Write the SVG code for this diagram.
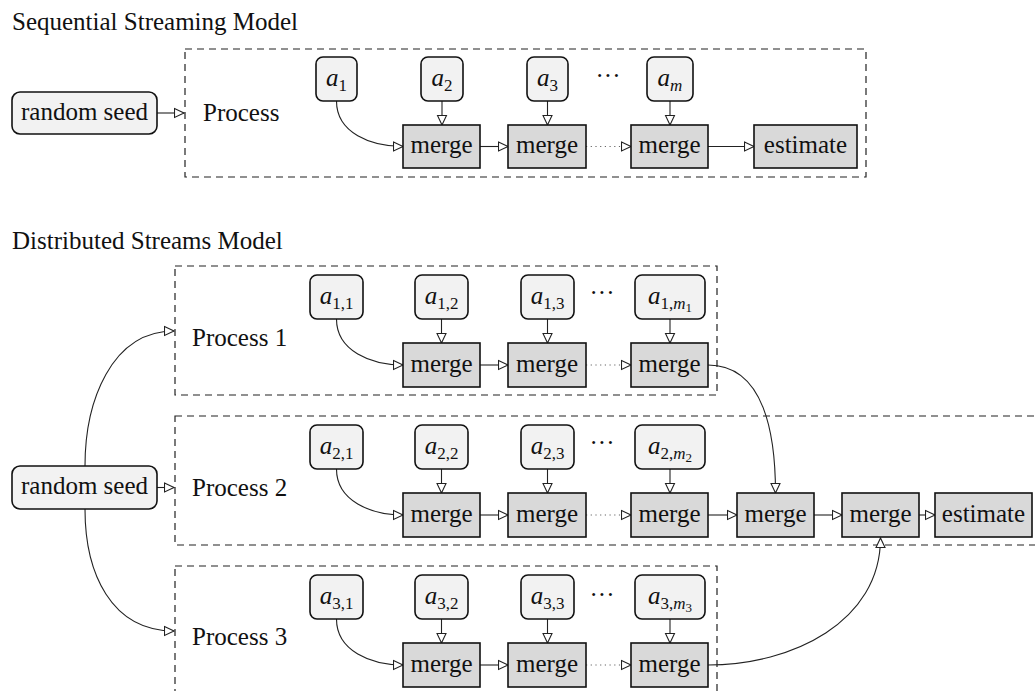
<svg xmlns="http://www.w3.org/2000/svg" width="1035" height="691" viewBox="0 0 1035 691">
<style>
text{font-family:"Liberation Serif",serif;font-size:25px;fill:#111}
.c{text-anchor:middle}
.i{font-style:italic}
.s{font-size:17px}
.ss{font-size:13px}
.a rect{fill:#f2f2f2;stroke:#111;stroke-width:1.6}
.mg rect{fill:#d9d9d9;stroke:#111;stroke-width:1.6}
.proc{fill:none;stroke:#222;stroke-width:1.2;stroke-dasharray:7 5}
.cn path,.cn line{fill:none;stroke:#222;stroke-width:1.1;marker-end:url(#ar)}
.cn .dot{stroke-dasharray:1.2 3.5;stroke:#666}
</style>
<defs>
<marker id="ar" markerUnits="userSpaceOnUse" markerWidth="12" markerHeight="12" viewBox="-1 -1 12 11" refX="9.5" refY="4.5" orient="auto">
<path d="M0,0 L9.5,4.5 L0,9 Z" fill="#fff" stroke="#222" stroke-width="1.1"/>
</marker>
</defs>

<text x="12" y="30">Sequential Streaming Model</text>
<text x="12" y="249">Distributed Streams Model</text>

<!-- process containers -->
<g id="proc-seq"><rect class="proc" x="185" y="49" width="681" height="128"/><text x="203" y="121">Process</text></g>
<g id="proc-1"><rect class="proc" x="175" y="266" width="542" height="129"/><text x="192" y="346">Process 1</text></g>
<g id="proc-2"><rect class="proc" x="175" y="416" width="870" height="129"/><text x="192" y="496">Process 2</text></g>
<g id="proc-3"><rect class="proc" x="175" y="566" width="542" height="135"/><text x="192" y="645">Process 3</text></g>

<!-- connectors -->
<g id="connectors" class="cn">
<line x1="157" y1="113" x2="184" y2="113"/>
<path d="M336.5,101 C336.5,133 371,146.5 403,146.5"/>
<line x1="442" y1="101" x2="442" y2="125"/>
<line x1="547.5" y1="101" x2="547.5" y2="125"/>
<line x1="670" y1="101" x2="670" y2="125"/>
<line x1="480" y1="146.5" x2="508" y2="146.5"/>
<line class="dot" x1="586" y1="146.5" x2="631" y2="146.5"/>
<line x1="708" y1="146.5" x2="754" y2="146.5"/>

<line x1="157" y1="487.5" x2="174" y2="487.5"/>
<path d="M85,466 C85,402 111,331 174,331"/>
<path d="M85,509 C85,573 111,631 174,631"/>

<path d="M336.5,319 C336.5,351 371,365 403,365"/>
<line x1="441.5" y1="319" x2="441.5" y2="343"/>
<line x1="547.5" y1="319" x2="547.5" y2="343"/>
<line x1="670" y1="319" x2="670" y2="343"/>
<line x1="480" y1="365" x2="508" y2="365"/>
<line class="dot" x1="586" y1="365" x2="631" y2="365"/>

<path d="M336.5,469 C336.5,501 371,515 403,515"/>
<line x1="441.5" y1="469" x2="441.5" y2="493"/>
<line x1="547.5" y1="469" x2="547.5" y2="493"/>
<line x1="670" y1="469" x2="670" y2="493"/>
<line x1="480" y1="515" x2="508" y2="515"/>
<line class="dot" x1="586" y1="515" x2="631" y2="515"/>
<line x1="708" y1="515" x2="737" y2="515"/>
<line x1="814" y1="515" x2="842" y2="515"/>
<line x1="919" y1="515" x2="935" y2="515"/>

<path d="M336.5,619 C336.5,651 371,665 403,665"/>
<line x1="441.5" y1="619" x2="441.5" y2="643"/>
<line x1="547.5" y1="619" x2="547.5" y2="643"/>
<line x1="670" y1="619" x2="670" y2="643"/>
<line x1="480" y1="665" x2="508" y2="665"/>
<line class="dot" x1="586" y1="665" x2="631" y2="665"/>

<path d="M708,365 C765,365 775.5,436 775.5,493"/>
<path d="M708,665 C792,665 880.5,622 880.5,538"/>
</g>

<!-- sequential nodes -->
<g id="seed-seq" class="a"><rect x="12" y="92" width="145" height="42" rx="8"/><text class="c" x="84.5" y="119.5">random seed</text></g>
<g id="s-a1" class="a"><rect x="316" y="57" width="41" height="44" rx="7"/><text class="c" x="336.5" y="86"><tspan class="i">a</tspan><tspan class="s" dy="5">1</tspan></text></g>
<g id="s-a2" class="a"><rect x="421" y="57" width="42" height="44" rx="7"/><text class="c" x="442" y="86"><tspan class="i">a</tspan><tspan class="s" dy="5">2</tspan></text></g>
<g id="s-a3" class="a"><rect x="527" y="57" width="41" height="44" rx="7"/><text class="c" x="547.5" y="86"><tspan class="i">a</tspan><tspan class="s" dy="5">3</tspan></text></g>
<text id="s-dots" class="c" x="608" y="84">···</text>
<g id="s-am" class="a"><rect x="647" y="57" width="46" height="44" rx="7"/><text class="c" x="670" y="86"><tspan class="i">a</tspan><tspan class="s i" dy="5">m</tspan></text></g>
<g id="s-m1" class="mg"><rect x="403" y="125" width="77" height="43"/><text class="c" x="441.5" y="153">merge</text></g>
<g id="s-m2" class="mg"><rect x="508" y="125" width="78" height="43"/><text class="c" x="547" y="153">merge</text></g>
<g id="s-m3" class="mg"><rect x="631" y="125" width="77" height="43"/><text class="c" x="669.5" y="153">merge</text></g>
<g id="s-est" class="mg"><rect x="754" y="125" width="103" height="43"/><text class="c" x="805.5" y="153">estimate</text></g>

<!-- distributed nodes -->
<g id="seed-dist" class="a"><rect x="12" y="466" width="145" height="43" rx="8"/><text class="c" x="84.5" y="494">random seed</text></g>

<g id="r1-a1" class="a"><rect x="310" y="275" width="53" height="44" rx="7"/><text class="c" x="336.5" y="304"><tspan class="i">a</tspan><tspan class="s" dy="5">1,1</tspan></text></g>
<g id="r1-a2" class="a"><rect x="415" y="275" width="53" height="44" rx="7"/><text class="c" x="441.5" y="304"><tspan class="i">a</tspan><tspan class="s" dy="5">1,2</tspan></text></g>
<g id="r1-a3" class="a"><rect x="521" y="275" width="53" height="44" rx="7"/><text class="c" x="547.5" y="304"><tspan class="i">a</tspan><tspan class="s" dy="5">1,3</tspan></text></g>
<text id="r1-dots" class="c" x="602" y="301">···</text>
<g id="r1-am" class="a"><rect x="635" y="275" width="70" height="44" rx="7"/><text class="c" x="670" y="304"><tspan class="i">a</tspan><tspan class="s" dy="5">1,</tspan><tspan class="s i">m</tspan><tspan class="ss" dy="3">1</tspan></text></g>
<g id="r1-m1" class="mg"><rect x="403" y="343" width="77" height="44"/><text class="c" x="441.5" y="371.5">merge</text></g>
<g id="r1-m2" class="mg"><rect x="508" y="343" width="78" height="44"/><text class="c" x="547" y="371.5">merge</text></g>
<g id="r1-m3" class="mg"><rect x="631" y="343" width="77" height="44"/><text class="c" x="669.5" y="371.5">merge</text></g>

<g id="r2-a1" class="a"><rect x="310" y="425" width="53" height="44" rx="7"/><text class="c" x="336.5" y="454"><tspan class="i">a</tspan><tspan class="s" dy="5">2,1</tspan></text></g>
<g id="r2-a2" class="a"><rect x="415" y="425" width="53" height="44" rx="7"/><text class="c" x="441.5" y="454"><tspan class="i">a</tspan><tspan class="s" dy="5">2,2</tspan></text></g>
<g id="r2-a3" class="a"><rect x="521" y="425" width="53" height="44" rx="7"/><text class="c" x="547.5" y="454"><tspan class="i">a</tspan><tspan class="s" dy="5">2,3</tspan></text></g>
<text id="r2-dots" class="c" x="602" y="451">···</text>
<g id="r2-am" class="a"><rect x="635" y="425" width="70" height="44" rx="7"/><text class="c" x="670" y="454"><tspan class="i">a</tspan><tspan class="s" dy="5">2,</tspan><tspan class="s i">m</tspan><tspan class="ss" dy="3">2</tspan></text></g>
<g id="r2-m1" class="mg"><rect x="403" y="493" width="77" height="44"/><text class="c" x="441.5" y="521.5">merge</text></g>
<g id="r2-m2" class="mg"><rect x="508" y="493" width="78" height="44"/><text class="c" x="547" y="521.5">merge</text></g>
<g id="r2-m3" class="mg"><rect x="631" y="493" width="77" height="44"/><text class="c" x="669.5" y="521.5">merge</text></g>
<g id="r2-m4" class="mg"><rect x="737" y="493" width="77" height="44"/><text class="c" x="775.5" y="521.5">merge</text></g>
<g id="r2-m5" class="mg"><rect x="842" y="493" width="77" height="44"/><text class="c" x="880.5" y="521.5">merge</text></g>
<g id="r2-est" class="mg"><rect x="935" y="493" width="97" height="44"/><text class="c" x="983.5" y="521.5">estimate</text></g>

<g id="r3-a1" class="a"><rect x="310" y="575" width="53" height="44" rx="7"/><text class="c" x="336.5" y="604"><tspan class="i">a</tspan><tspan class="s" dy="5">3,1</tspan></text></g>
<g id="r3-a2" class="a"><rect x="415" y="575" width="53" height="44" rx="7"/><text class="c" x="441.5" y="604"><tspan class="i">a</tspan><tspan class="s" dy="5">3,2</tspan></text></g>
<g id="r3-a3" class="a"><rect x="521" y="575" width="53" height="44" rx="7"/><text class="c" x="547.5" y="604"><tspan class="i">a</tspan><tspan class="s" dy="5">3,3</tspan></text></g>
<text id="r3-dots" class="c" x="602" y="603">···</text>
<g id="r3-am" class="a"><rect x="635" y="575" width="70" height="44" rx="7"/><text class="c" x="670" y="604"><tspan class="i">a</tspan><tspan class="s" dy="5">3,</tspan><tspan class="s i">m</tspan><tspan class="ss" dy="3">3</tspan></text></g>
<g id="r3-m1" class="mg"><rect x="403" y="643" width="77" height="44"/><text class="c" x="441.5" y="671.5">merge</text></g>
<g id="r3-m2" class="mg"><rect x="508" y="643" width="78" height="44"/><text class="c" x="547" y="671.5">merge</text></g>
<g id="r3-m3" class="mg"><rect x="631" y="643" width="77" height="44"/><text class="c" x="669.5" y="671.5">merge</text></g>
</svg>
